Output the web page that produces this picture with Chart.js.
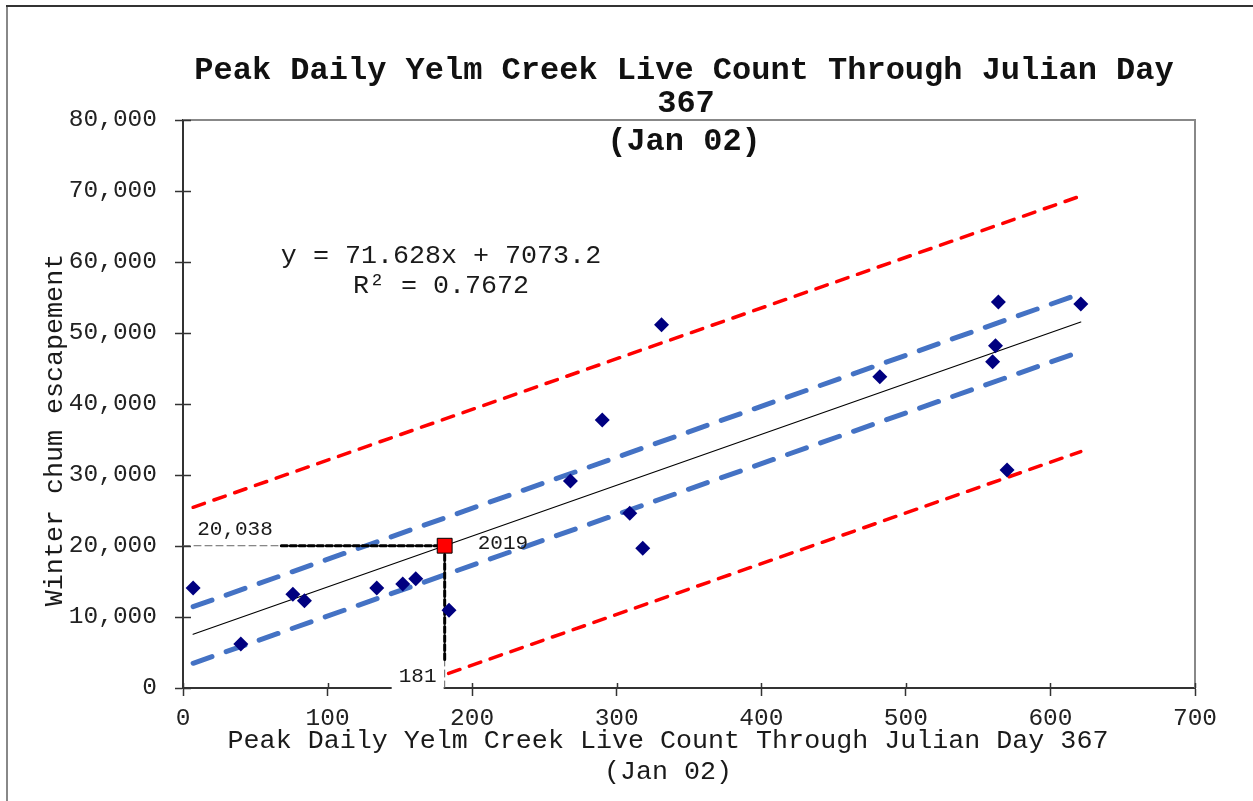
<!DOCTYPE html>
<html lang="en">
<head>
<meta charset="utf-8">
<title>Peak Daily Yelm Creek Live Count</title>
<script src="https://cdn.jsdelivr.net/npm/chart.js@4.4.0/dist/chart.umd.min.js"></script>
<style>
  html, body { margin: 0; padding: 0; background: #fff; }
  #wrap { position: relative; width: 1253px; height: 801px; }
</style>
</head>
<body>
<div id="wrap"><canvas id="chart" width="1253" height="801"></canvas></div>
<script>
const liveCounts = [7, 40, 76, 84, 134, 152, 161, 184, 268, 290, 309, 318, 331, 482, 564, 562, 560, 570, 621];
const escapement = [14100, 6200, 13200, 12300, 14100, 14650, 15400, 10950, 29150, 37750, 24600, 19700, 51150, 43850, 54350, 48200, 45950, 30700, 54100];

// 2019 の推定値
const estX = [181];
const estY = [20038];

// 回帰線と区間（両端の値）
const fitX = [7, 621];
const trendY = [7570, 51550];
const confUpperY = [11450, 55550];
const confLowerY = [3480, 47400];
const predUpperY = [25450, 69300];
const predLowerX = [155, 621];
const predLowerY = [0, 33300];

// 補助線
const guideThinHX = [0, 181];
const guideThinVY = [0, 20038];
const guideBoldHX = [68, 181];
const guideBoldVY = [4000, 20038];

// 軸の目盛
const xTicks = [0, 100, 200, 300, 400, 500, 600, 700];
const yTicks = [0, 10000, 20000, 30000, 40000, 50000, 60000, 70000, 80000];

const titleLines = ['Peak Daily Yelm Creek Live Count Through Julian Day', '367', '(Jan 02)'];
const xTitleLines = ['Peak Daily Yelm Creek Live Count Through Julian Day 367', '(Jan 02)'];
const yTitle = 'Winter chum escapement';
const equationLines = ['y = 71.628x + 7073.2', 'R\u00B2 = 0.7672'];

const FONT = '"Liberation Mono", "DejaVu Sans Mono", monospace';

const toPoints = (xs, ys) => xs.map((x, i) => ({ x, y: ys[i] }));

const lineSet = (data, color, width, dash, order) => ({
  data,
  showLine: true,
  borderColor: color,
  borderWidth: width,
  borderDash: dash,
  borderCapStyle: 'round',
  pointRadius: 0,
  fill: false,
  order
});

// 枠線・文字・内側目盛
const decorPlugin = {
  id: 'decor',
  beforeDraw(chart) {
    const ctx = chart.ctx;
    ctx.save();
    ctx.fillStyle = '#fff';
    ctx.fillRect(0, 0, chart.width, chart.height);
    ctx.lineWidth = 2;
    ctx.strokeStyle = '#888';
    ctx.beginPath();
    ctx.moveTo(7, 6);
    ctx.lineTo(7, chart.height);
    ctx.stroke();
    ctx.strokeStyle = '#333';
    ctx.beginPath();
    ctx.moveTo(6, 6);
    ctx.lineTo(chart.width, 6);
    ctx.stroke();
    ctx.restore();
  },
  beforeDatasetsDraw(chart) {
    const { ctx, chartArea: a } = chart;
    ctx.save();
    ctx.strokeStyle = '#888';
    ctx.lineWidth = 2;
    ctx.beginPath();
    ctx.moveTo(a.left, a.top);
    ctx.lineTo(a.right, a.top);
    ctx.lineTo(a.right, a.bottom);
    ctx.stroke();
    ctx.restore();
  },
  afterDraw(chart) {
    const { ctx, chartArea: a, scales } = chart;
    const xs = scales.x, ys = scales.y;
    ctx.save();

    // 内側の目盛
    ctx.strokeStyle = '#333';
    ctx.lineWidth = 1.5;
    yTicks.forEach(v => {
      const py = Math.round(ys.getPixelForValue(v)) + 0.5;
      ctx.beginPath();
      ctx.moveTo(a.left, py);
      ctx.lineTo(a.left + 8, py);
      ctx.stroke();
    });
    xTicks.forEach(v => {
      const px = Math.round(xs.getPixelForValue(v)) + 0.5;
      ctx.beginPath();
      ctx.moveTo(px, a.bottom);
      ctx.lineTo(px, a.bottom - 5);
      ctx.stroke();
    });

    ctx.fillStyle = '#1a1a1a';
    ctx.textAlign = 'center';
    ctx.textBaseline = 'middle';

    // データラベル
    const ex = xs.getPixelForValue(estX[0]);
    const ey = ys.getPixelForValue(estY[0]);
    ctx.font = '21px ' + FONT;
    ctx.fillText(estY[0].toLocaleString('en-US'), 235, ey - 16);
    ctx.textAlign = 'left';
    ctx.fillText('2019', ex + 33, ey - 2);

    ctx.fillStyle = '#fff';
    ctx.fillRect(ex - 53, a.bottom - 24, 52, 27);
    ctx.fillStyle = '#1a1a1a';
    ctx.textAlign = 'center';
    ctx.fillText(String(estX[0]), ex - 27, a.bottom - 12);

    // 回帰式
    ctx.font = '26.7px ' + FONT;
    ctx.fillText(equationLines[0], 441, 256);
    ctx.fillText(equationLines[1], 441, 286);

    // タイトル
    ctx.font = 'bold 32px ' + FONT;
    ctx.fillStyle = '#111';
    ctx.fillText(titleLines[0], 684, 71);
    ctx.fillText(titleLines[1], 686, 104);
    ctx.fillText(titleLines[2], 684, 142);

    // 軸タイトル
    ctx.font = '26.7px ' + FONT;
    ctx.fillStyle = '#1a1a1a';
    ctx.fillText(xTitleLines[0], 668, 741);
    ctx.fillText(xTitleLines[1], 668, 772);

    ctx.translate(55, 430);
    ctx.rotate(-Math.PI / 2);
    ctx.fillText(yTitle, 0, 0);
    ctx.restore();
  }
};

const tickFont = { family: FONT, size: 24.5 };

new Chart(document.getElementById('chart'), {
  type: 'scatter',
  data: {
    datasets: [
      {
        data: toPoints(estX, estY),
        pointStyle: 'rect',
        pointRadius: 10.5,
        backgroundColor: '#ff0000',
        borderColor: '#000',
        borderWidth: 1,
        order: 0
      },
      {
        data: toPoints(liveCounts, escapement),
        pointStyle: 'rectRot',
        pointRadius: 7.5,
        backgroundColor: '#000080',
        borderColor: '#000080',
        borderWidth: 0,
        order: 1
      },
      lineSet(toPoints(guideBoldHX, [estY[0], estY[0]]), '#000', 3, [6, 3], 2),
      lineSet(toPoints([estX[0], estX[0]], guideBoldVY), '#000', 3, [6, 3], 2),
      lineSet(toPoints(guideThinHX, [estY[0], estY[0]]), '#666', 1, [7, 4], 3),
      lineSet(toPoints([estX[0], estX[0]], guideThinVY), '#666', 1, [7, 4], 3),
      lineSet(toPoints(fitX, trendY), '#000', 1.2, [], 4),
      lineSet(toPoints(fitX, confUpperY), '#4472c4', 5, [20, 15], 5),
      lineSet(toPoints(fitX, confLowerY), '#4472c4', 5, [20, 15], 5),
      lineSet(toPoints(fitX, predUpperY), '#ff0000', 3.5, [12, 10], 6),
      lineSet(toPoints(predLowerX, predLowerY), '#ff0000', 3.5, [12, 10], 6)
    ]
  },
  options: {
    responsive: false,
    animation: false,
    layout: { padding: { left: 0, right: 58, top: 120, bottom: 0 } },
    plugins: {
      legend: { display: false },
      tooltip: { enabled: false },
      title: { display: false }
    },
    scales: {
      x: {
        type: 'linear',
        min: 0,
        max: 700,
        afterBuildTicks: s => { s.ticks = xTicks.map(v => ({ value: v })); },
        afterFit: s => { s.height = 113; },
        ticks: { font: tickFont, color: '#222', padding: 8, maxRotation: 0, autoSkip: false },
        grid: { drawOnChartArea: false, tickLength: 8, color: '#333', tickWidth: 1.5 },
        border: { color: '#333', width: 2 }
      },
      y: {
        type: 'linear',
        min: 0,
        max: 80000,
        afterBuildTicks: s => { s.ticks = yTicks.map(v => ({ value: v })); },
        afterFit: s => { s.width = 183; },
        ticks: {
          font: tickFont,
          color: '#222',
          padding: 18,
          autoSkip: false,
          callback: v => v.toLocaleString('en-US')
        },
        grid: { drawOnChartArea: false, tickLength: 8, color: '#333', tickWidth: 1.5 },
        border: { color: '#333', width: 2 }
      }
    }
  },
  plugins: [decorPlugin]
});
</script>
</body>
</html>
